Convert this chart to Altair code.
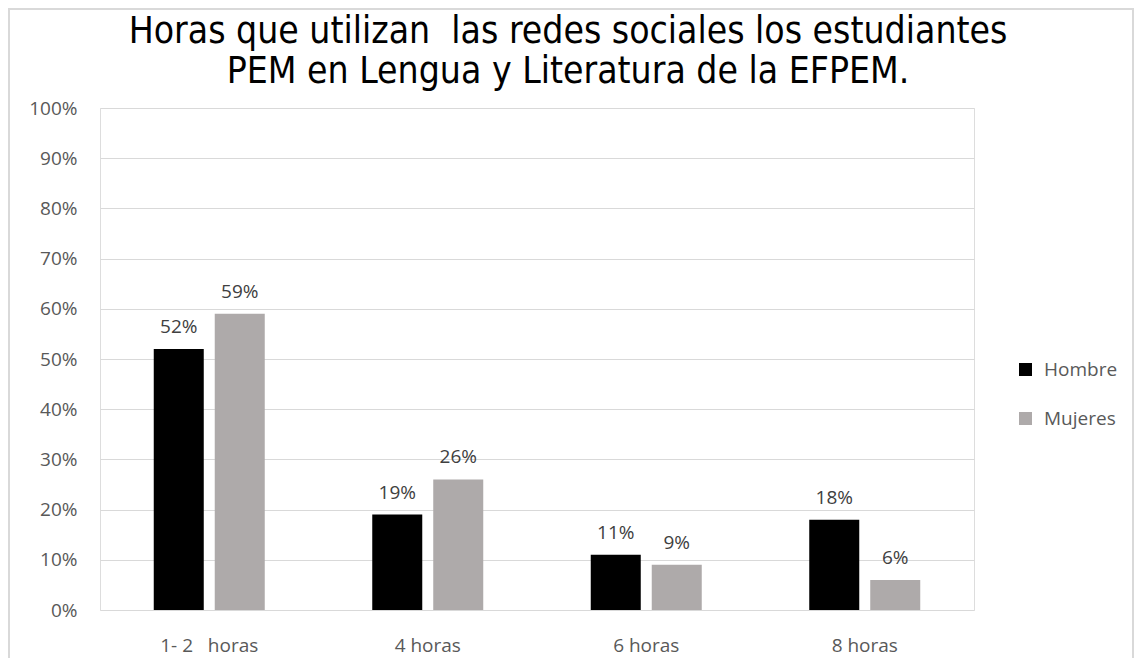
import altair as alt
import pandas as pd

categorias = ["1- 2\u00a0\u00a0\u00a0horas", "4 horas", "6 horas", "8 horas"]
hombre = [0.52, 0.19, 0.11, 0.18]
mujeres = [0.59, 0.26, 0.09, 0.06]
series = ["Hombre", "Mujeres"]
colores = ["#000000", "#AEAAAA"]
titulo = ["Horas que utilizan\u00a0 las redes sociales los estudiantes",
          "PEM en Lengua y Literatura de la EFPEM."]

rows = []
for c, h, m in zip(categorias, hombre, mujeres):
    rows.append({"cat": c, "serie": "Hombre", "valor": h})
    rows.append({"cat": c, "serie": "Mujeres", "valor": m})
df = pd.DataFrame(rows)

FONT = "Open Sans"
TFONT = "Liberation Sans Narrow, Arial Narrow, DejaVu Sans Condensed, sans-serif"

x_enc = alt.X("cat:N", sort=categorias, title=None,
              scale=alt.Scale(paddingInner=0.492, paddingOuter=0.246),
              axis=alt.Axis(labelAngle=0, labelFont=FONT, labelFontSize=19,
                            labelColor="#595959", domain=False, ticks=False,
                            tickSize=0, labelPadding=41, labelBaseline="alphabetic",
                            grid=False))
xo_enc = alt.XOffset("serie:N", sort=series,
                     scale=alt.Scale(paddingInner=0.18, paddingOuter=0))
y_enc = alt.Y("valor:Q", title=None,
              scale=alt.Scale(domain=[0, 1], nice=False),
              axis=alt.Axis(format=".0%", values=[i / 10 for i in range(11)],
                            labelFont=FONT, labelFontSize=19, labelColor="#595959",
                            domain=False, ticks=False, tickSize=0, labelPadding=23,
                            gridColor="#d9d9d9", gridWidth=1))

one = pd.DataFrame({"a": [0]})

border = alt.Chart(one).mark_rect(
    fill=None, stroke="#d9d9d9", strokeWidth=2
).encode(x=alt.value(-91), x2=alt.value(1033), y=alt.value(-99), y2=alt.value(700))

title_mark = alt.Chart(one).mark_text(
    font=TFONT, fontSize=37, color="#000000", align="center",
    baseline="alphabetic", lineHeight=40
).encode(x=alt.value(468), y=alt.value(-65), text=alt.value(titulo))

bars = alt.Chart(df).mark_bar().encode(
    x=x_enc, xOffset=xo_enc, y=y_enc,
    color=alt.Color("serie:N", sort=series,
                    scale=alt.Scale(domain=series, range=colores),
                    legend=alt.Legend(title=None, orient="none", legendX=916,
                                      legendY=252, symbolType="square",
                                      symbolSize=169, symbolStrokeWidth=0,
                                      labelFont=FONT, labelFontSize=19,
                                      labelColor="#595959", labelOffset=9,
                                      rowPadding=29, padding=0))
)

labels = alt.Chart(df).mark_text(
    baseline="alphabetic", dy=-16, font=FONT, fontSize=19, color="#404040"
).encode(
    x=alt.X("cat:N", sort=categorias), xOffset=alt.XOffset("serie:N", sort=series),
    y="valor:Q", text=alt.Text("valor:Q", format=".0%")
)

chart = alt.layer(border, title_mark, bars, labels).properties(
    width=874, height=502,
    autosize=alt.AutoSizeParams(type="none"),
    padding={"left": 92, "top": 100, "right": 161, "bottom": 48},
).configure_view(strokeWidth=0).configure(background="white")

chart.save("out.html", embed_options={"renderer": "svg", "actions": False})
